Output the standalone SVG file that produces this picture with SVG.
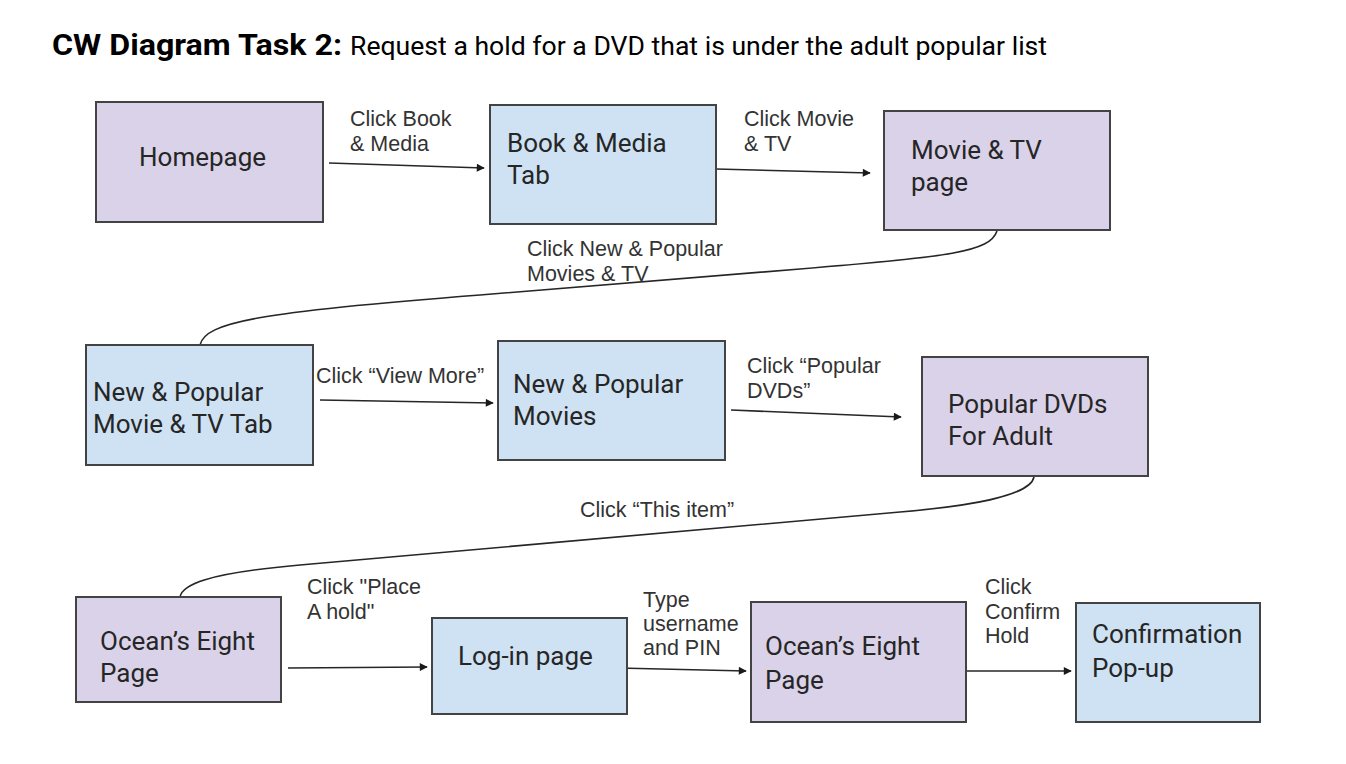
<svg xmlns="http://www.w3.org/2000/svg" width="1346" height="764" viewBox="0 0 1346 764">
<defs>
<marker id="ah" viewBox="0 0 10 10" refX="9" refY="5" markerWidth="10" markerHeight="8" markerUnits="userSpaceOnUse" orient="auto">
<path d="M0,0 L10,5 L0,10 z" fill="#1a1a1a"/>
</marker>
<style>
.pur{fill:#d9d2e9;stroke:#434343;stroke-width:2}
.blu{fill:#cfe2f3;stroke:#434343;stroke-width:2}
.nt{font-family:Roboto,"Liberation Sans",sans-serif;font-size:26px;fill:#262626}
.lb{font-family:"Liberation Sans",Arial,sans-serif;font-size:21.5px;fill:#333}
.cn{fill:none;stroke:#262626;stroke-width:1.6}
</style>
</defs>
<rect width="1346" height="764" fill="#fff"/>
<text x="52" y="55" font-family="Roboto,'Liberation Sans',sans-serif" fill="#000"><tspan font-weight="bold" font-size="30" textLength="290" lengthAdjust="spacingAndGlyphs">CW Diagram Task 2:</tspan><tspan font-size="26.6" x="350">Request a hold for a DVD that is under the adult popular list</tspan></text>

<g id="connectors">
<path class="cn" d="M329,163 L484,168" marker-end="url(#ah)"/>
<path class="cn" d="M716,169 L870,173" marker-end="url(#ah)"/>
<path class="cn" d="M997,231 C990,252 950,256.8 800,269 L480,295 C260,312 205,322 200,345"/>
<path class="cn" d="M320,400 L493,403" marker-end="url(#ah)"/>
<path class="cn" d="M731,410 L901,417" marker-end="url(#ah)"/>
<path class="cn" d="M1034,477 C1030,497 965,506.3 900,512 L300,565 C205,573.4 182,585 180,597"/>
<path class="cn" d="M288,668 L427,667" marker-end="url(#ah)"/>
<path class="cn" d="M618,668 L746,671" marker-end="url(#ah)"/>
<path class="cn" d="M966,671 L1071,671" marker-end="url(#ah)"/>
</g>

<g id="labels">
<text class="lb" x="350" y="126">Click Book</text>
<text class="lb" x="350" y="151">&amp; Media</text>
<text class="lb" x="744" y="126">Click Movie</text>
<text class="lb" x="744" y="151">&amp; TV</text>
<text class="lb" x="527" y="256">Click New &amp; Popular</text>
<text class="lb" x="527" y="281">Movies &amp; TV</text>
<text class="lb" x="316" y="383">Click “View More”</text>
<text class="lb" x="747" y="373">Click “Popular</text>
<text class="lb" x="747" y="398">DVDs”</text>
<text class="lb" x="580" y="517">Click “This item”</text>
<text class="lb" x="307" y="594">Click "Place</text>
<text class="lb" x="307" y="619">A hold"</text>
<text class="lb" x="643" y="607">Type</text>
<text class="lb" x="643" y="631">username</text>
<text class="lb" x="643" y="655">and PIN</text>
<text class="lb" x="985" y="594">Click</text>
<text class="lb" x="985" y="619">Confirm</text>
<text class="lb" x="985" y="643">Hold</text>
</g>

<g id="homepage"><rect class="pur" x="96" y="102" width="227" height="120"/><text class="nt" x="139" y="166">Homepage</text></g>
<g id="book-media-tab"><rect class="blu" x="490" y="105" width="226" height="119"/><text class="nt" x="507" y="152">Book &amp; Media</text><text class="nt" x="507" y="184">Tab</text></g>
<g id="movie-tv-page"><rect class="pur" x="884" y="111" width="226" height="119"/><text class="nt" x="911" y="159">Movie &amp; TV</text><text class="nt" x="911" y="191">page</text></g>
<g id="new-popular-tab"><rect class="blu" x="86" y="345" width="227" height="120"/><text class="nt" x="93" y="401">New &amp; Popular</text><text class="nt" x="93" y="433">Movie &amp; TV Tab</text></g>
<g id="new-popular-movies"><rect class="blu" x="498" y="341" width="227" height="119"/><text class="nt" x="513" y="393">New &amp; Popular</text><text class="nt" x="513" y="425">Movies</text></g>
<g id="popular-dvds-adult"><rect class="pur" x="922" y="357" width="226" height="119"/><text class="nt" x="948" y="413">Popular DVDs</text><text class="nt" x="948" y="445">For Adult</text></g>
<g id="oceans-eight-1"><rect class="pur" x="76" y="597" width="205" height="105"/><text class="nt" x="100" y="650">Ocean’s Eight</text><text class="nt" x="100" y="682">Page</text></g>
<g id="login-page"><rect class="blu" x="432" y="618" width="195" height="96"/><text class="nt" x="458" y="665">Log-in page</text></g>
<g id="oceans-eight-2"><rect class="pur" x="751" y="602" width="215" height="120"/><text class="nt" x="765" y="655" font-size="28.5">Ocean’s Eight</text><text class="nt" x="765" y="689" font-size="28.5">Page</text></g>
<g id="confirmation-popup"><rect class="blu" x="1076" y="603" width="184" height="119"/><text class="nt" x="1092" y="643">Confirmation</text><text class="nt" x="1092" y="677">Pop-up</text></g>
</svg>
